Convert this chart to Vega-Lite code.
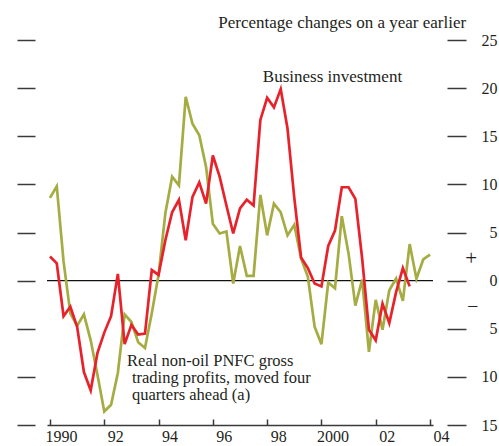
{
  "$schema": "https://vega.github.io/schema/vega-lite/v6.json",
  "width": 386,
  "height": 385,
  "autosize": {"type": "none"},
  "padding": {"left": 47, "top": 40, "right": 66, "bottom": 21},
  "background": "white",
  "config": {
    "font": "Liberation Serif",
    "view": {"stroke": null},
    "axis": {"grid": false, "title": null, "labelFont": "Liberation Serif", "labelFontSize": 16, "labelColor": "#231f20", "tickColor": "#3a3a3a", "tickWidth": 1.5, "domainColor": "#3a3a3a", "domainWidth": 1.5}
  },
  "datasets": {
    "invest": [
      {"t": 1990.00, "v": 2.5}, {"t": 1990.25, "v": 1.8}, {"t": 1990.50, "v": -3.7}, {"t": 1990.75, "v": -2.7},
      {"t": 1991.00, "v": -4.8}, {"t": 1991.25, "v": -9.5}, {"t": 1991.50, "v": -11.4}, {"t": 1991.75, "v": -7.5},
      {"t": 1992.00, "v": -5.4}, {"t": 1992.25, "v": -3.7}, {"t": 1992.50, "v": 0.7}, {"t": 1992.75, "v": -6.6},
      {"t": 1993.00, "v": -4.6}, {"t": 1993.25, "v": -5.6}, {"t": 1993.50, "v": -5.5}, {"t": 1993.75, "v": 1.1},
      {"t": 1994.00, "v": 0.6}, {"t": 1994.25, "v": 4.2}, {"t": 1994.50, "v": 7.1}, {"t": 1994.75, "v": 8.4},
      {"t": 1995.00, "v": 4.2}, {"t": 1995.25, "v": 8.7}, {"t": 1995.50, "v": 10.2}, {"t": 1995.75, "v": 8.0},
      {"t": 1996.00, "v": 13.0}, {"t": 1996.25, "v": 10.8}, {"t": 1996.50, "v": 7.8}, {"t": 1996.75, "v": 4.9},
      {"t": 1997.00, "v": 7.5}, {"t": 1997.25, "v": 8.4}, {"t": 1997.50, "v": 7.8}, {"t": 1997.75, "v": 16.7},
      {"t": 1998.00, "v": 19.0}, {"t": 1998.25, "v": 18.0}, {"t": 1998.50, "v": 19.9}, {"t": 1998.75, "v": 15.8},
      {"t": 1999.00, "v": 8.6}, {"t": 1999.25, "v": 2.4}, {"t": 1999.50, "v": 1.3}, {"t": 1999.75, "v": -0.3},
      {"t": 2000.00, "v": -0.6}, {"t": 2000.25, "v": 3.6}, {"t": 2000.50, "v": 5.2}, {"t": 2000.75, "v": 9.7},
      {"t": 2001.00, "v": 9.7}, {"t": 2001.25, "v": 8.5}, {"t": 2001.50, "v": 2.3}, {"t": 2001.75, "v": -5.1},
      {"t": 2002.00, "v": -6.2}, {"t": 2002.25, "v": -2.4}, {"t": 2002.50, "v": -4.4}, {"t": 2002.75, "v": -1.2},
      {"t": 2003.00, "v": 1.3}, {"t": 2003.25, "v": -0.6}
    ],
    "profits": [
      {"t": 1990.00, "v": 8.6}, {"t": 1990.25, "v": 9.8}, {"t": 1990.50, "v": 2.0}, {"t": 1990.75, "v": -3.4},
      {"t": 1991.00, "v": -4.7}, {"t": 1991.25, "v": -3.5}, {"t": 1991.50, "v": -6.2}, {"t": 1991.75, "v": -9.8},
      {"t": 1992.00, "v": -13.6}, {"t": 1992.25, "v": -12.9}, {"t": 1992.50, "v": -9.6}, {"t": 1992.75, "v": -3.5},
      {"t": 1993.00, "v": -4.3}, {"t": 1993.25, "v": -6.4}, {"t": 1993.50, "v": -7.0}, {"t": 1993.75, "v": -3.4},
      {"t": 1994.00, "v": 0.6}, {"t": 1994.25, "v": 7.0}, {"t": 1994.50, "v": 10.8}, {"t": 1994.75, "v": 9.9},
      {"t": 1995.00, "v": 19.1}, {"t": 1995.25, "v": 16.3}, {"t": 1995.50, "v": 15.1}, {"t": 1995.75, "v": 11.8},
      {"t": 1996.00, "v": 5.9}, {"t": 1996.25, "v": 4.9}, {"t": 1996.50, "v": 5.1}, {"t": 1996.75, "v": -0.3},
      {"t": 1997.00, "v": 3.6}, {"t": 1997.25, "v": 0.5}, {"t": 1997.50, "v": 0.5}, {"t": 1997.75, "v": 8.9},
      {"t": 1998.00, "v": 4.7}, {"t": 1998.25, "v": 8.0}, {"t": 1998.50, "v": 7.1}, {"t": 1998.75, "v": 4.7},
      {"t": 1999.00, "v": 5.8}, {"t": 1999.25, "v": 2.3}, {"t": 1999.50, "v": 0.4}, {"t": 1999.75, "v": -4.8},
      {"t": 2000.00, "v": -6.6}, {"t": 2000.25, "v": -0.2}, {"t": 2000.50, "v": -0.8}, {"t": 2000.75, "v": 6.7},
      {"t": 2001.00, "v": 2.8}, {"t": 2001.25, "v": -2.6}, {"t": 2001.50, "v": 0.1}, {"t": 2001.75, "v": -7.4},
      {"t": 2002.00, "v": -2.0}, {"t": 2002.25, "v": -5.1}, {"t": 2002.50, "v": -1.0}, {"t": 2002.75, "v": 0.2},
      {"t": 2003.00, "v": -2.1}, {"t": 2003.25, "v": 3.8}, {"t": 2003.50, "v": 0.2}, {"t": 2003.75, "v": 2.2},
      {"t": 2004.00, "v": 2.7}
    ],
    "zero": [{"v": 0}],
    "title": [{"t": 2005.33, "v": 26.2, "label": "Percentage changes on a year earlier"}],
    "invLabel": [{"t": 1997.84, "v": 20.6, "label": "Business investment"}],
    "profLabel": [
      {"t": 1992.84, "v": -8.85, "label": "Real non-oil PNFC gross"},
      {"t": 1993.02, "v": -10.65, "label": "trading profits, moved four"},
      {"t": 1993.02, "v": -12.45, "label": "quarters ahead (a)"}
    ],
    "plus": [{"t": 2005.52, "v": 2.2, "label": "+"}],
    "minus": [{"t": 2005.57, "v": -2.6, "label": "\u2013"}]
  },
  "layer": [
    {
      "data": {"name": "zero"},
      "mark": {"type": "rule", "color": "#111111", "strokeWidth": 1.3},
      "encoding": {
        "y": {"field": "v", "type": "quantitative", "scale": {"domain": [-15, 25], "nice": false, "zero": false},
          "axis": {"orient": "left", "offset": 12, "tickSize": 18, "domain": false, "labels": false, "values": [-15, -10, -5, 0, 5, 10, 15, 20, 25]}}
      }
    },
    {
      "data": {"name": "profits"},
      "mark": {"type": "line", "color": "#a4ac42", "strokeWidth": 2.7, "strokeJoin": "miter"},
      "encoding": {
        "x": {"field": "t", "type": "quantitative", "scale": {"domain": [1989.89, 2004.11], "nice": false, "zero": false},
          "axis": {"orient": "bottom", "values": [1990, 1992, 1994, 1996, 1998, 2000, 2002, 2004], "tickSize": -6, "labelPadding": 9, "labelOffset": 11, "labelOverlap": false, "labelFlush": false,
            "labelExpr": "(datum.value == 1990 || datum.value == 2000) ? format(datum.value, 'd') : slice('0' + format(datum.value % 100, 'd'), -2)"}},
        "y": {"field": "v", "type": "quantitative",
          "axis": {"orient": "right", "offset": 14, "tickSize": 19, "domain": false, "labelAlign": "right", "labelPadding": 31, "labelBaseline": "middle", "values": [-15, -10, -5, 0, 5, 10, 15, 20, 25], "labelExpr": "format(abs(datum.value), 'd')", "labelOverlap": false}}
      }
    },
    {
      "data": {"name": "invest"},
      "mark": {"type": "line", "color": "#e8222b", "strokeWidth": 2.7, "strokeJoin": "miter"},
      "encoding": {
        "x": {"field": "t", "type": "quantitative"},
        "y": {"field": "v", "type": "quantitative", "axis": null}
      }
    },
    {
      "data": {"name": "title"},
      "mark": {"type": "text", "align": "right", "baseline": "alphabetic", "fontSize": 17, "color": "#231f20"},
      "encoding": {
        "x": {"field": "t", "type": "quantitative"},
        "y": {"field": "v", "type": "quantitative", "axis": null},
        "text": {"field": "label"}
      }
    },
    {
      "data": {"name": "invLabel"},
      "mark": {"type": "text", "align": "left", "baseline": "alphabetic", "fontSize": 17, "color": "#231f20"},
      "encoding": {
        "x": {"field": "t", "type": "quantitative"},
        "y": {"field": "v", "type": "quantitative", "axis": null},
        "text": {"field": "label"}
      }
    },
    {
      "data": {"name": "profLabel"},
      "mark": {"type": "text", "align": "left", "baseline": "alphabetic", "fontSize": 16.5, "color": "#231f20"},
      "encoding": {
        "x": {"field": "t", "type": "quantitative"},
        "y": {"field": "v", "type": "quantitative", "axis": null},
        "text": {"field": "label"}
      }
    },
    {
      "data": {"name": "plus"},
      "mark": {"type": "text", "align": "center", "baseline": "middle", "fontSize": 21, "color": "#231f20"},
      "encoding": {
        "x": {"field": "t", "type": "quantitative"},
        "y": {"field": "v", "type": "quantitative", "axis": null},
        "text": {"field": "label"}
      }
    },
    {
      "data": {"name": "minus"},
      "mark": {"type": "text", "align": "center", "baseline": "middle", "fontSize": 18, "color": "#231f20"},
      "encoding": {
        "x": {"field": "t", "type": "quantitative"},
        "y": {"field": "v", "type": "quantitative", "axis": null},
        "text": {"field": "label"}
      }
    }
  ],
  "resolve": {"axis": {"y": "independent"}}
}
